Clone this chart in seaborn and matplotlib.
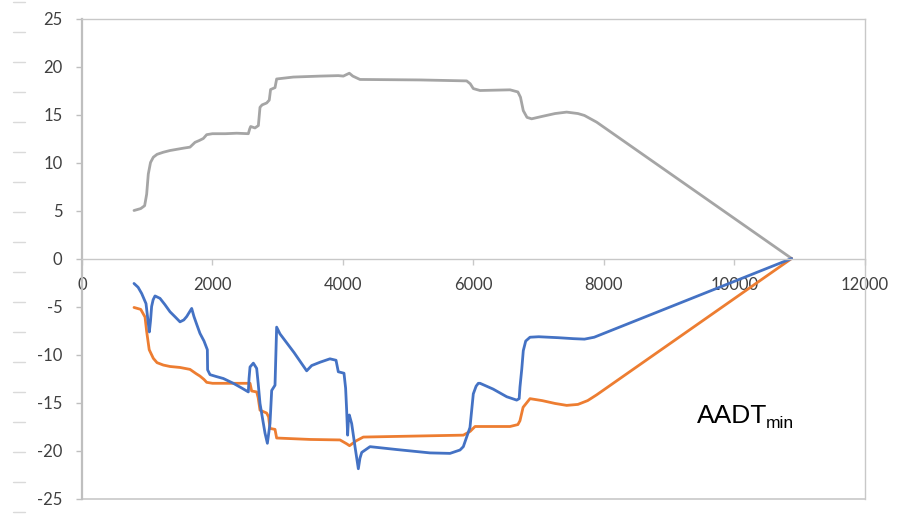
import matplotlib
matplotlib.use("Agg")
import matplotlib.pyplot as plt
from matplotlib.lines import Line2D
import seaborn as sns

# Upper envelope (grey)
gray_x = [797, 900, 960, 991, 1016, 1050, 1093, 1150, 1246, 1350, 1476, 1560, 1655,
          1732, 1800, 1859, 1911, 2000, 2200, 2371, 2549, 2570, 2585, 2651, 2703,
          2728, 2760, 2830, 2870, 2890, 2958, 2983, 3238, 3647, 3928, 4005, 4097,
          4150, 4260, 5180, 5895, 5950, 5997, 6100, 6560, 6680, 6720, 6763, 6820,
          6891, 7050, 7250, 7428, 7600, 7700, 7888, 10876]
gray_y = [5.0, 5.2, 5.5, 6.7, 8.8, 10.0, 10.55, 10.85, 11.07, 11.25, 11.4, 11.5, 11.6,
          12.1, 12.3, 12.5, 12.9, 13.0, 13.0, 13.05, 13.0, 13.5, 13.75, 13.6, 13.85,
          15.75, 16.0, 16.2, 16.5, 17.6, 17.8, 18.7, 18.9, 19.0, 19.05, 19.0, 19.3,
          19.0, 18.65, 18.6, 18.5, 18.2, 17.7, 17.5, 17.57, 17.35, 16.8, 15.4, 14.7,
          14.55, 14.8, 15.1, 15.25, 15.1, 14.9, 14.2, 0.0]

# Lower envelope (orange)
orange_x = [797, 900, 966, 991, 1030, 1093, 1150, 1246, 1350, 1502, 1655, 1750, 1808,
            1870, 1911, 2000, 2300, 2575, 2600, 2677, 2700, 2728, 2830, 2860, 2881,
            2958, 2983, 3500, 3954, 4056, 4100, 4200, 4311, 5844, 5950, 6023, 6560,
            6680, 6712, 6760, 6866, 7050, 7250, 7428, 7600, 7750, 7888, 10876]
orange_y = [-5.1, -5.3, -6.1, -7.6, -9.5, -10.4, -10.85, -11.1, -11.25, -11.35, -11.55,
            -12.0, -12.25, -12.6, -12.9, -13.0, -13.0, -13.0, -13.8, -13.9, -14.5,
            -15.8, -16.1, -16.5, -17.7, -17.8, -18.7, -18.85, -18.9, -19.3, -19.5,
            -19.0, -18.6, -18.4, -18.0, -17.5, -17.5, -17.3, -16.9, -15.5, -14.6,
            -14.8, -15.1, -15.3, -15.2, -14.8, -14.2, 0.0]

# Measured response (blue)
blue_x = [797, 860, 915, 981, 1016, 1032, 1050, 1067, 1090, 1119, 1195, 1270, 1349,
          1430, 1502, 1560, 1604, 1681, 1716, 1760, 1808, 1870, 1921, 1925, 1962,
          2060, 2166, 2319, 2450, 2549, 2560, 2575, 2626, 2677, 2700, 2728, 2770,
          2805, 2841, 2881, 2907, 2958, 2983, 3034, 3250, 3443, 3520, 3650, 3800,
          3893, 3928, 4015, 4040, 4056, 4071, 4085, 4097, 4133, 4184, 4235, 4260,
          4287, 4414, 4823, 5333, 5640, 5793, 5844, 5946, 5997, 6040, 6074, 6100,
          6300, 6509, 6662, 6700, 6712, 6740, 6763, 6800, 6866, 7000, 7300, 7530,
          7700, 7850, 10876]
blue_y = [-2.6, -3.0, -3.65, -4.7, -6.75, -7.65, -6.5, -5.0, -4.3, -3.9, -4.15, -4.8,
          -5.55, -6.1, -6.6, -6.4, -6.05, -5.2, -6.05, -6.9, -7.8, -8.6, -9.5, -11.6,
          -12.1, -12.3, -12.5, -13.0, -13.5, -13.9, -12.5, -11.3, -10.9, -11.45,
          -13.0, -15.1, -16.8, -18.2, -19.25, -17.2, -13.75, -13.2, -7.15, -7.85,
          -9.8, -11.7, -11.15, -10.8, -10.45, -10.6, -11.8, -11.95, -13.5, -15.8,
          -18.4, -16.5, -16.3, -17.2, -19.6, -21.9, -20.8, -20.2, -19.6, -19.9,
          -20.25, -20.3, -19.95, -19.6, -17.6, -14.1, -13.3, -13.0, -13.0, -13.6,
          -14.4, -14.75, -14.6, -13.4, -11.5, -9.6, -8.6, -8.2, -8.15, -8.25, -8.35,
          -8.4, -8.2, 0.0]

x_ticks = [0, 2000, 4000, 6000, 8000, 10000, 12000]
y_ticks = [-25, -20, -15, -10, -5, 0, 5, 10, 15, 20, 25]

sns.set_style("white")
plt.rcParams["font.family"] = ["Lato", "DejaVu Sans"]

fig = plt.figure(figsize=(9.03, 5.19), dpi=100)
ax = fig.add_axes([82 / 903, 1 - 498.5 / 519, 783 / 903, 480 / 519])

line_kw = dict(estimator=None, sort=False, linewidth=2.0, ax=ax, legend=False,
               solid_joinstyle="round", solid_capstyle="round")
sns.lineplot(x=gray_x, y=gray_y, color="#A5A5A5", **line_kw)
sns.lineplot(x=orange_x, y=orange_y, color="#ED7D31", **line_kw)
sns.lineplot(x=blue_x, y=blue_y, color="#4472C4", **line_kw)

ax.set_xlim(0, 12000)
ax.set_ylim(-25, 25)
ax.set_xticks(x_ticks)
ax.set_yticks(y_ticks)
ax.set_xticklabels([str(v) for v in x_ticks])
ax.set_yticklabels([str(v) for v in y_ticks])

axis_col = "#BFBFBF"
# horizontal axis crosses at zero
ax.spines["bottom"].set_position(("data", 0))
ax.spines["bottom"].set_color("#C8C8C8")
ax.spines["bottom"].set_linewidth(1.0)
ax.spines["left"].set_color(axis_col)
ax.spines["left"].set_linewidth(1.6)
for side in ("top", "right"):
    ax.spines[side].set_visible(True)
    ax.spines[side].set_color("#C8C8C8")
    ax.spines[side].set_linewidth(1.0)
ax.axhline(-25, color="#C8C8C8", linewidth=1.2, clip_on=False, zorder=0)

ax.tick_params(axis="x", direction="out", length=4, width=1.0, color="#C8C8C8",
               pad=9, labelsize=12, labelcolor="#404040", bottom=True)
ax.tick_params(axis="y", direction="out", length=4, width=1.0, color=axis_col,
               pad=10, labelsize=12, labelcolor="#404040", left=True)
ax.set_xlabel("")
ax.set_ylabel("")

label = ax.text(9425, -17.1, "AADT", fontsize=19, color="black",
                family=["Liberation Sans"], ha="left", va="baseline")
ax.annotate("min", xy=(1, 0), xycoords=label, xytext=(-1, 0),
            textcoords="offset points", fontsize=12.5, color="black",
            family=["Liberation Sans"], ha="left", va="baseline")

# faint ruling marks along the left margin
for k in range(18):
    yy = 1 - (2 + 30 * k) / 519
    fig.add_artist(Line2D([13 / 903, 25 / 903], [yy, yy], color="#DADADA",
                          linewidth=1.0))

fig.savefig("out.png", dpi=100)
